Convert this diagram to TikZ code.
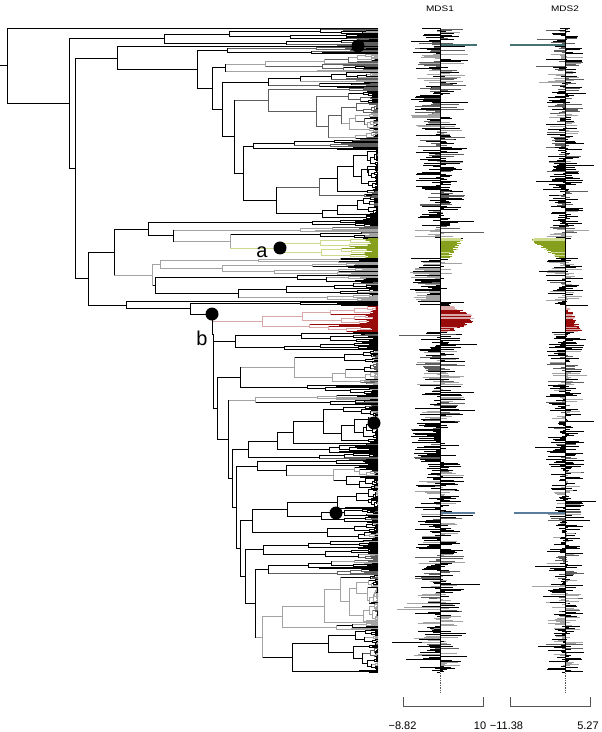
\documentclass[tikz,border=0pt]{standalone}
\usepackage{fontspec}
\setmainfont{Liberation Sans}
\newfontfamily\wide[FakeStretch=1.25]{Liberation Sans}
\definecolor{ltg}{HTML}{A3A3A3}
\definecolor{dkg}{HTML}{5E5E5E}
\definecolor{glt}{HTML}{CDD98C}
\definecolor{gdk}{HTML}{86A01E}
\definecolor{rlt}{HTML}{D9A8A8}
\definecolor{rdk}{HTML}{990B0B}
\definecolor{tealA}{HTML}{467272}
\definecolor{tealB}{HTML}{5B7D9C}
\definecolor{axg}{HTML}{555555}

% ---------- pseudo random generator (Park-Miller) ----------
\newcount\myseed \global\myseed=20231
\newcount\rtA \newcount\rtB
\def\nextr{%
  \rtA=\myseed \divide\rtA by 127773
  \rtB=\rtA \multiply\rtB by -127773 \advance\rtB by \myseed
  \multiply\rtB by 16807
  \multiply\rtA by 2836
  \advance\rtB by -\rtA
  \ifnum\rtB<0 \advance\rtB by 2147483647 \fi
  \global\myseed=\rtB
  \rtA=\myseed \divide\rtA by 2147484
  \edef\rrr{\the\rtA}}

\def\cmode{0}
\def\bcc{black}
\def\pickcol{\nextr\ifnum\rrr<300 \nextr\ifnum\rrr<550 \def\bcc{black}\else\ifnum\rrr<750 \def\bcc{dkg}\else\def\bcc{ltg}\fi\fi\fi}
\def\intcol{\ifcase\cmode\relax\let\icc\bcc\or\def\icc{glt}\or\def\icc{rlt}\fi}
\def\tipcol{\ifcase\cmode\relax\let\tcc\bcc\or\def\tcc{gdk}\or\def\tcc{rdk}\fi}

% child node x position
\newcommand\childx[3]{%
  \ifnum#1=1\relax \def\cxx{378}\else
    \nextr
    \edef\cxx{\fpeval{round(378-(378-#3)*(ln(#1)/ln(#2))^0.8*(0.5+0.4*\rrr/1000),3)}}%
  \fi}

% bars of the two MDS panels for tip #1 at height #2
\newcommand\bars[2]{%
  \nextr\edef\qa{\rrr}\nextr\edef\qb{\rrr}\nextr\edef\qc{\rrr}\nextr\edef\qd{\rrr}%
  \nextr\edef\qe{\rrr}\nextr\edef\qf{\rrr}\nextr\edef\qg{\rrr}\nextr\edef\qh{\rrr}%
  \ifcase\cmode\relax
    \def\pnn{450}%
    \ifdim#2pt>40pt \ifdim#2pt<62pt \def\pnn{850}\fi\fi
    \ifdim#2pt>95pt \ifdim#2pt<120pt \def\pnn{850}\fi\fi
    \ifdim#2pt>258pt \ifdim#2pt<302pt \def\pnn{850}\fi\fi
    \ifdim#2pt>423pt \ifdim#2pt<462pt \def\pnn{880}\fi\fi
    \ifdim#2pt>625pt \ifdim#2pt<660pt \def\pnn{750}\fi\fi
    \ifnum\qa<\pnn\relax \def\sgA{-1}\else\def\sgA{1}\fi
    \ifnum\qe<500 \def\sgB{-1}\else\def\sgB{1}\fi
    \ifnum\pnn>500 \def\ampl{1.2}\else\def\ampl{1}\fi
    \ifnum\qc>975
      \edef\vA{\fpeval{round(\sgA*(26+18*\qd/1000)*\ampl,2)}}%
    \else
      \edef\vA{\fpeval{round(\sgA*(3+22*(\qb/1000)^1.3)*\ampl,2)}}%
    \fi
    \ifnum\qf>980
      \edef\vB{\fpeval{round(\sgB*(20+14*\qg/1000),2)}}%
    \else
      \edef\vB{\fpeval{round(\sgB*(2+17*(\qh/1000)^1.5),2)}}%
    \fi
    \edef\bcol{\tcc}%
  \or
    \edef\tpos{\fpeval{(#1-162)/14}}%
    \edef\vA{\fpeval{round(9+13*(1-\tpos)+6*(\qa/1000-0.5),2)}}%
    \edef\vB{\fpeval{round(-(7+27*(1-\tpos))+6*(\qb/1000-0.5),2)}}%
    \ifnum\qc<750 \def\bcol{gdk}\else\def\bcol{glt}\fi
  \or
    \edef\tpos{\fpeval{(#1-214)/19}}%
    \edef\vA{\fpeval{round(10+20*sind(180*\tpos)+8*(\qa/1000-0.5),2)}}%
    \edef\vB{\fpeval{round(3+11*\tpos+6*(\qb/1000-0.5),2)}}%
    \ifnum\qc<700 \def\bcol{rdk}\else\def\bcol{rlt}\fi
  \fi
  \ifnum#1=13 \def\vA{37}\def\vB{-55}\def\bcol{tealA}\fi
  \ifnum#1=373 \def\vA{35}\def\vB{-51}\def\bcol{tealB}\fi
  \draw[barl,draw=\bcol] (440,#2) -- ++(\vA,0);
  \draw[barl,draw=\bcol] (565,#2) -- ++(\vB,0);
}

% random subtree: first tip index #1, #2 tips, node x #3
\newcommand\st[3]{%
  \begingroup
  \edef\ppx{\curpx}%
  \pickcol
  \ifnum#2=1\relax
    \edef\yy{\fpeval{28+1.3*#1}}%
    \edef\yyb{\fpeval{\yy+0.65}}%
    \edef\ym{\fpeval{\yy+0.325}}%
    \nextr
    \edef\xc{\fpeval{round(\ppx+(378-\ppx)*(0.15+0.5*\rrr/1000),2)}}%
    \tipcol
    \draw[br,draw=\tcc] (\ppx,\ym) -- (\xc,\ym);
    \draw[br,draw=\tcc] (\xc,\yy) -- (\xc,\yyb);
    \draw[br,draw=\tcc] (\xc,\yy) -- (378,\yy);
    \draw[br,draw=\tcc] (\xc,\yyb) -- (378,\yyb);
    \bars{#1}{\yy}\bars{#1}{\yyb}%
    \xdef\lastmid{\ym}%
  \else
    \edef\curpx{#3}%
    \nextr
    \edef\nA{\fpeval{1+floor(\rrr/1000*(#2-1))}}%
    \edef\nB{\the\numexpr#2-\nA\relax}%
    \edef\iB{\the\numexpr#1+\nA\relax}%
    \childx{\nA}{#2}{#3}\let\xA\cxx
    \childx{\nB}{#2}{#3}\let\xB\cxx
    \edef\mynext{\noexpand\st{#1}{\nA}{\xA}}\mynext
    \edef\mA{\lastmid}%
    \edef\mynext{\noexpand\st{\iB}{\nB}{\xB}}\mynext
    \edef\mB{\lastmid}%
    \intcol
    \draw[br,draw=\icc] (#3,\mA) -- (#3,\mB);
    \edef\mM{\fpeval{(\mA+\mB)/2}}%
    \draw[br,draw=\icc] (\ppx,\mM) -- (#3,\mM);
    \xdef\lastmid{\mM}%
  \fi
  \endgroup}

% hand placed node at x #1 with two children
\newcommand\mn[3]{%
  \begingroup
  \edef\ppx{\curpx}\edef\curpx{#1}%
  \pickcol
  #2\edef\mA{\lastmid}%
  #3\edef\mB{\lastmid}%
  \intcol
  \draw[br,draw=\icc] (#1,\mA) -- (#1,\mB);
  \edef\mM{\fpeval{(\mA+\mB)/2}}%
  \draw[br,draw=\icc] (\ppx,\mM) -- (#1,\mM);
  \xdef\lastmid{\mM}%
  \endgroup}

% hand placed node at x #1, drawn at height #2
\newcommand\mnat[4]{%
  \begingroup
  \edef\ppx{\curpx}\edef\curpx{#1}%
  \pickcol
  #3\edef\mA{\lastmid}%
  #4\edef\mB{\lastmid}%
  \intcol
  \edef\mlo{\fpeval{min(\mA,\mB,#2)}}\edef\mhi{\fpeval{max(\mA,\mB,#2)}}%
  \draw[br,draw=\icc] (#1,\mlo) -- (#1,\mhi);
  \draw[br,draw=\icc] (\ppx,#2) -- (#1,#2);
  \xdef\lastmid{#2}%
  \endgroup}

% ---------- the hand placed backbone ----------
\def\topclade{\mn{117}{\st{14}{1}{378}}{\mn{197}{\st{15}{5}{227}}{\mn{212}{\st{20}{14}{225}}{\mn{222}{\st{34}{12}{268}}{\mn{234}{\st{46}{40}{268}}{\mn{243}{\st{86}{8}{253}}{\st{94}{53}{276}}}}}}}}
\def\greenclade{{\def\cmode{1}\st{162}{15}{280}}\xdef\adoty{\lastmid}}
\def\greenpart{\mn{148}{\st{147}{6}{312}}{\mn{173}{\st{153}{4}{300}}{\mn{230}{\st{157}{5}{320}}{\greenclade}}}}
\def\redclade{{\def\cmode{2}\st{214}{20}{262}}}
\def\ladder{\mnat{213}{334}{\st{234}{14}{235}}{\mn{217}{\st{248}{34}{240}}{\mn{228}{\st{282}{8}{255}}{\mn{232}{\st{290}{42}{248}}{\mn{236}{\st{332}{23}{257}}{\mn{240}{\st{355}{39}{252}}{\mn{245}{\st{394}{15}{263}}{\mn{255}{\st{409}{12}{268}}{\mn{262}{\st{421}{42}{282}}{\st{463}{33}{292}}}}}}}}}}}
\def\lowpart{\mn{126}{\st{210}{1}{378}}{\mn{190}{\st{211}{3}{300}}{\mnat{212}{314}{\redclade}{\ladder}}}}
\def\midpart{\mn{88}{\mn{114}{\greenpart}{\mn{152}{\st{177}{13}{160}}{\st{190}{20}{155}}}}{\lowpart}}
\def\whole{\mn{7}{\st{0}{1}{378}}{\mn{69}{\st{1}{13}{164}}{\mn{75}{\topclade}{\midpart}}}}

\begin{document}
\begin{tikzpicture}[x=1pt,y=-1pt,
  br/.style={line width=0.85pt,line cap=rect},
  barl/.style={line width=0.85pt},
  dot/.style={fill=black},
  ttl/.style={font=\wide\fontsize{8}{9}\selectfont},
  num/.style={font=\fontsize{11}{12}\selectfont},
  lab/.style={font=\fontsize{20}{22}\selectfont},
  axis/.style={draw=axg,line width=0.8pt}]
\fill[white] (0,0) rectangle (602,732);
\useasboundingbox (0,0) rectangle (602,732);
\def\curpx{0}
\whole
% baselines of the bar panels
\draw[line width=0.9pt] (440,28) -- (440,672);
\draw[line width=0.9pt] (565,28) -- (565,672);
\draw[axg,densely dotted,line width=0.7pt] (440,673) -- (440,693);
\draw[axg,densely dotted,line width=0.7pt] (565,673) -- (565,693);
% axes
\draw[axis] (403,697) -- (403,706.5) -- (483,706.5) -- (483,697);
\draw[axis] (510,697) -- (510,706.5) -- (590,706.5) -- (590,697);
\node[num] (n1) at (402.5,725.5) {−8.82};
\node[num] (n2) at (480,725.5) {10};
\node[num] (n3) at (506.5,725.5) {−11.38};
\node[num] (n4) at (588,725.5) {5.27};
% titles
\node[ttl] (t1) at (440,8.5) {MDS1};
\node[ttl] (t2) at (565,8.5) {MDS2};
% dots and labels
\fill[dot] (358,46) circle[radius=6.5pt];
\fill[dot] (374,423) circle[radius=6.5pt];
\fill[dot] (336,513) circle[radius=6.5pt];
\fill[dot] (280,\adoty) circle[radius=6.5pt];
\fill[dot] (212,314) circle[radius=6.5pt];
\node[lab] (la) at (262,{\adoty+4}) {a};
\node[lab] (lb) at (202,338) {b};
\end{tikzpicture}
\end{document}
